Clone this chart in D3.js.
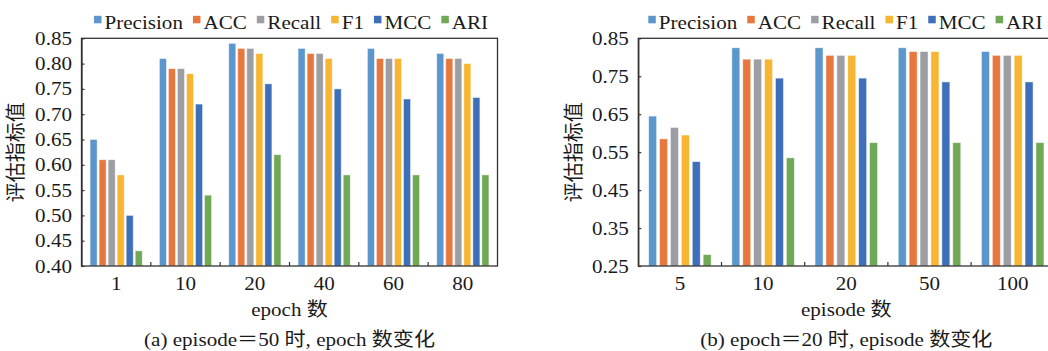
<!DOCTYPE html>
<html>
<head>
<meta charset="utf-8">
<script src="https://cdn.jsdelivr.net/npm/d3@7/dist/d3.min.js"></script>
<style>
html,body{margin:0;padding:0;background:#fff;overflow:hidden;}
svg{display:block;}
</style>
</head>
<body>
<svg id="chart" width="1048" height="351"></svg>
<script>
// ---------- data ----------
const seriesNames = ["Precision", "ACC", "Recall", "F1", "MCC", "ARI"];
const seriesColors = ["#5B97CC", "#E8773E", "#9D9EA3", "#F7B531", "#3E6FBA", "#70A955"];

// (a) episode = 50, varying epoch
const categoriesA = ["1", "10", "20", "40", "60", "80"];
const precisionA = [0.65, 0.81, 0.84, 0.83, 0.83, 0.82];
const accA       = [0.61, 0.79, 0.83, 0.82, 0.81, 0.81];
const recallA    = [0.61, 0.79, 0.83, 0.82, 0.81, 0.81];
const f1A        = [0.58, 0.78, 0.82, 0.81, 0.81, 0.80];
const mccA       = [0.50, 0.72, 0.76, 0.75, 0.73, 0.733];
const ariA       = [0.43, 0.54, 0.62, 0.58, 0.58, 0.58];
const yTicksA = [0.40, 0.45, 0.50, 0.55, 0.60, 0.65, 0.70, 0.75, 0.80, 0.85];

// (b) epoch = 20, varying episode
const categoriesB = ["5", "10", "20", "50", "100"];
const precisionB = [0.645, 0.825, 0.825, 0.825, 0.815];
const accB       = [0.585, 0.795, 0.805, 0.815, 0.805];
const recallB    = [0.615, 0.795, 0.805, 0.815, 0.805];
const f1B        = [0.595, 0.795, 0.805, 0.815, 0.805];
const mccB       = [0.525, 0.745, 0.745, 0.735, 0.735];
const ariB       = [0.28, 0.535, 0.575, 0.575, 0.575];
const yTicksB = [0.25, 0.35, 0.45, 0.55, 0.65, 0.75, 0.85];

const yLabel = "评估指标值";
const xTitleA = "epoch 数";
const xTitleB = "episode 数";
const captionA = "(a) episode＝50 时, epoch 数变化";
const captionB = "(b) epoch＝20 时, episode 数变化";

// ---------- drawing ----------
const FONT = "'Liberation Serif','Times New Roman','Noto Sans CJK SC',serif";
const SX = 1.11;
const AX = "#333";
const svg = d3.select("#chart");

function txt(g, x, y, s, size, anchor) {
  return g.append("text")
    .attr("transform", `translate(${x},${y}) scale(${SX},1)`)
    .attr("text-anchor", anchor || "middle")
    .attr("font-family", FONT)
    .attr("font-size", size)
    .attr("fill", "#1a1a1a")
    .text(s);
}

function panel(cfg) {
  const g = svg.append("g").attr("transform", `translate(${cfg.left},${cfg.top})`);
  const w = cfg.width, h = cfg.height;
  const x = d3.scaleBand().domain(cfg.categories).range([0, w]).padding(0);
  const xi = d3.scaleBand().domain(seriesNames).range([0, x.bandwidth()])
    .paddingInner(cfg.pin).paddingOuter(cfg.pout);
  const y = d3.scaleLinear().domain(cfg.domain).range([h, 0]);

  // bars
  cfg.series.forEach((vals, si) => {
    g.append("g").selectAll("rect").data(vals).join("rect")
      .attr("x", (d, i) => x(cfg.categories[i]) + xi(seriesNames[si]))
      .attr("y", d => y(d))
      .attr("width", xi.bandwidth())
      .attr("height", d => h - y(d))
      .attr("fill", seriesColors[si])
      .attr("stroke", "#ffffff")
      .attr("stroke-opacity", 0.55)
      .attr("stroke-width", 0.8);
  });

  // frame
  g.append("rect").attr("x", 0).attr("y", 0).attr("width", w).attr("height", h)
    .attr("fill", "none").attr("stroke", AX).attr("stroke-width", 1.3);

  // y axis
  const ya = g.append("g").call(d3.axisLeft(y).tickValues(cfg.yTicks)
    .tickFormat(d3.format(".2f")).tickSizeInner(-3).tickSizeOuter(0).tickPadding(9));
  ya.select(".domain").attr("stroke", AX).attr("stroke-width", 1.3);
  ya.selectAll(".tick line").attr("stroke", AX).attr("stroke-width", 1.2);
  ya.selectAll(".tick text").remove();
  cfg.yTicks.forEach(t => {
    txt(g, -9.5, y(t) + 6.5, d3.format(".2f")(t), 19, "end");
  });

  // x axis: separators between groups (inward ticks), labels at group centres
  const bounds = cfg.categories.slice(1).map(c => x(c));
  g.append("g").selectAll("line").data(bounds).join("line")
    .attr("x1", d => d).attr("x2", d => d)
    .attr("y1", h).attr("y2", h - 4)
    .attr("stroke", AX).attr("stroke-width", 1.2);
  cfg.categories.forEach(c => {
    txt(g, x(c) + x.bandwidth() / 2, h + 24, c, 19, "middle");
  });

  // titles
  txt(g, w / 2, h + 50, cfg.xTitle, 19, "middle");
  txt(g, w / 2, h + 80, cfg.caption, 19, "middle");

  g.append("text")
    .attr("transform", `translate(${-cfg.ylabOff},${h / 2}) rotate(-90)`)
    .attr("text-anchor", "middle")
    .attr("dominant-baseline", "central")
    .attr("font-family", FONT)
    .attr("font-size", 20)
    .attr("fill", "#1a1a1a")
    .text(yLabel);

  // legend
  let lx = cfg.legendX;
  const ly = -9;
  seriesNames.forEach((n, i) => {
    g.append("rect").attr("x", lx).attr("y", ly - 13.5).attr("width", 7.5).attr("height", 7.5)
      .attr("fill", seriesColors[i]);
    const t = txt(g, lx + 10.5, ly, n, 19, "start");
    const tw = t.node().getComputedTextLength() * SX;
    lx += 10.5 + tw + 10;
  });
}

panel({
  left: 81.5, top: 38.3, width: 416, height: 227.7,
  categories: categoriesA, series: [precisionA, accA, recallA, f1A, mccA, ariA],
  domain: [0.40, 0.85], yTicks: yTicksA, pin: 0.22, pout: 0.95,
  xTitle: xTitleA, caption: captionA, ylabOff: 66, legendX: 12.5
});

panel({
  left: 638.3, top: 38.3, width: 416, height: 227.7,
  categories: categoriesB, series: [precisionB, accB, recallB, f1B, mccB, ariB],
  domain: [0.25, 0.85], yTicks: yTicksB, pin: 0.27, pout: 0.95,
  xTitle: xTitleB, caption: captionB, ylabOff: 64, legendX: 10
});
</script>
</body>
</html>
